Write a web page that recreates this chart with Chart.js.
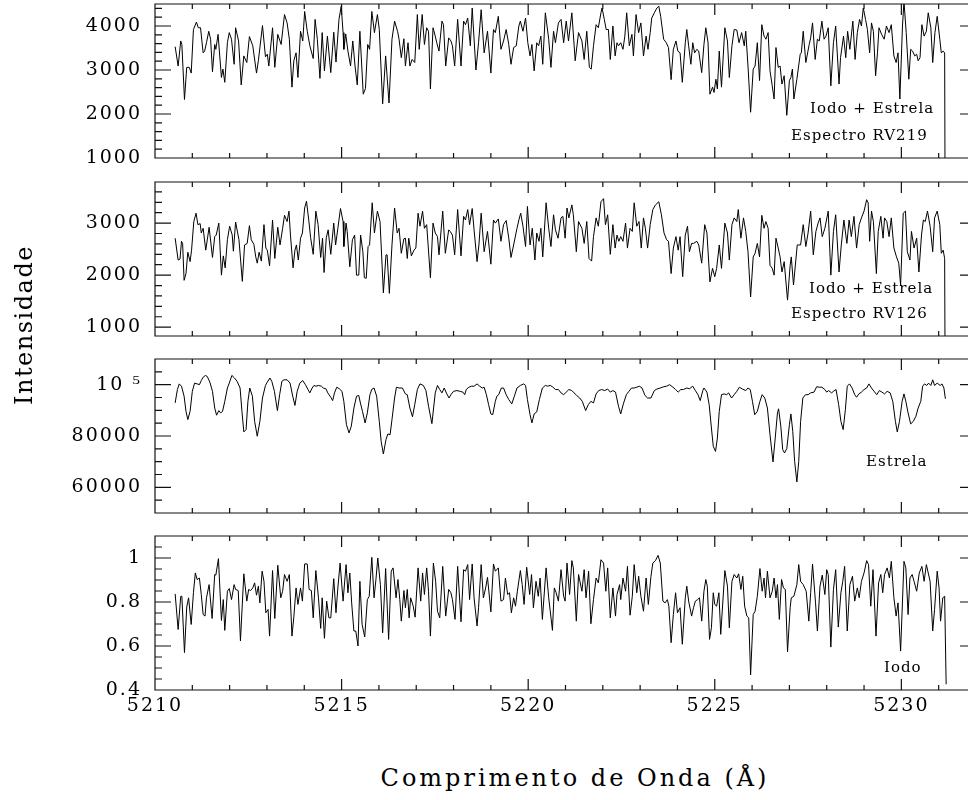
<!DOCTYPE html>
<html>
<head>
<meta charset="utf-8">
<script src="https://cdn.jsdelivr.net/npm/chart.js@4.4.1/dist/chart.umd.min.js"></script>
<style>
  html, body { margin: 0; padding: 0; background: #fff; overflow: hidden; }
  #wrap { position: relative; width: 968px; height: 800px; overflow: hidden; background: #fff; }
  #wrap canvas { position: absolute; left: 0; }
  .txt { position: absolute; font-family: 'DejaVu Serif', serif; color: #000; white-space: nowrap; line-height: 1; }
  .note { font-size: 15px; letter-spacing: 1px; }
  #ytitle { left: 24px; top: 325px; font-size: 24px; letter-spacing: 1.5px; transform: translate(-50%, -50%) rotate(-90deg); }
  #xtitle { left: 575px; top: 778px; font-size: 24px; letter-spacing: 3px; transform: translate(-50%, -50%); }
</style>
</head>
<body>
<div id="wrap">
  <canvas id="c1" width="980" height="174" style="top:0px"></canvas>
  <canvas id="c2" width="980" height="162" style="top:178px"></canvas>
  <canvas id="c3" width="980" height="162" style="top:355px"></canvas>
  <canvas id="c4" width="980" height="194" style="top:532px"></canvas>

  <div class="txt note" style="left:810px; top:101px">Iodo + Estrela</div>
  <div class="txt note" style="left:791px; top:128px">Espectro RV219</div>
  <div class="txt note" style="left:809px; top:281px">Iodo + Estrela</div>
  <div class="txt note" style="left:791px; top:306px">Espectro RV126</div>
  <div class="txt note" style="left:866px; top:454px">Estrela</div>
  <div class="txt note" style="left:884px; top:660px">Iodo</div>

  <div class="txt" id="ytitle">Intensidade</div>
  <div class="txt" id="xtitle">Comprimento de Onda (Å)</div>
</div>

<script>
// comprimento de onda (Angstrom) e intensidade

// painel 1 - Iodo + Estrela, espectro RV219
var wl1 = [
  5210.54,5210.62,5210.69,5210.72,5210.79,5210.85,5210.92,5210.97,5211.03,5211.11,
  5211.16,5211.22,5211.29,5211.33,5211.38,5211.44,5211.49,5211.54,5211.60,5211.63,
  5211.69,5211.78,5211.82,5211.87,5211.94,5211.99,5212.05,5212.12,5212.16,5212.24,
  5212.31,5212.38,5212.46,5212.53,5212.62,5212.72,5212.77,5212.88,5212.96,5213.01,
  5213.05,5213.15,5213.21,5213.29,5213.38,5213.47,5213.54,5213.60,5213.67,5213.72,
  5213.78,5213.83,5213.90,5213.96,5214.01,5214.08,5214.15,5214.24,5214.29,5214.35,
  5214.42,5214.48,5214.54,5214.62,5214.71,5214.79,5214.85,5214.93,5214.99,5215.04,
  5215.06,5215.11,5215.17,5215.24,5215.30,5215.36,5215.42,5215.49,5215.58,5215.64,
  5215.70,5215.75,5215.81,5215.88,5215.96,5216.01,5216.10,5216.18,5216.27,5216.35,
  5216.42,5216.50,5216.54,5216.60,5216.67,5216.71,5216.78,5216.83,5216.89,5216.96,
  5217.03,5217.08,5217.16,5217.22,5217.28,5217.33,5217.38,5217.45,5217.51,5217.55,
  5217.61,5217.69,5217.73,5217.79,5217.87,5217.93,5217.97,5218.03,5218.11,5218.20,
  5218.27,5218.32,5218.38,5218.45,5218.50,5218.60,5218.67,5218.74,5218.82,5218.91,
  5219.00,5219.07,5219.12,5219.20,5219.27,5219.34,5219.41,5219.48,5219.54,5219.61,
  5219.68,5219.75,5219.79,5219.86,5219.93,5219.99,5220.05,5220.10,5220.16,5220.23,
  5220.28,5220.34,5220.39,5220.46,5220.55,5220.61,5220.68,5220.73,5220.81,5220.88,
  5220.95,5221.02,5221.08,5221.17,5221.26,5221.35,5221.44,5221.50,5221.57,5221.64,
  5221.69,5221.75,5221.82,5221.88,5221.95,5221.98,5222.04,5222.09,5222.15,5222.20,
  5222.27,5222.33,5222.38,5222.42,5222.48,5222.54,5222.59,5222.64,5222.71,5222.78,
  5222.82,5222.89,5222.96,5223.02,5223.09,5223.16,5223.21,5223.27,5223.31,5223.38,
  5223.45,5223.50,5223.55,5223.63,5223.70,5223.76,5223.83,5223.89,5223.96,5224.01,
  5224.07,5224.13,5224.21,5224.25,5224.30,5224.36,5224.41,5224.46,5224.52,5224.57,
  5224.65,5224.71,5224.76,5224.82,5224.87,5224.94,5224.98,5225.03,5225.07,5225.12,
  5225.18,5225.27,5225.34,5225.39,5225.46,5225.52,5225.59,5225.65,5225.72,5225.79,
  5225.83,5225.89,5225.96,5226.03,5226.08,5226.14,5226.20,5226.26,5226.32,5226.37,
  5226.43,5226.48,5226.54,5226.59,5226.64,5226.70,5226.75,5226.80,5226.86,5226.93,
  5227.00,5227.04,5227.08,5227.12,5227.20,5227.29,5227.32,5227.37,5227.44,5227.53,
  5227.57,5227.62,5227.69,5227.75,5227.80,5227.87,5227.93,5227.98,5228.04,5228.11,
  5228.18,5228.24,5228.33,5228.37,5228.45,5228.51,5228.56,5228.62,5228.70,5228.76,
  5228.82,5228.88,5228.93,5228.98,5229.04,5229.09,5229.15,5229.20,5229.25,5229.31,
  5229.36,5229.40,5229.47,5229.54,5229.60,5229.67,5229.73,5229.80,5229.86,5229.91,
  5229.96,5230.03,5230.07,5230.13,5230.20,5230.25,5230.30,5230.36,5230.41,5230.45,
  5230.50,5230.55,5230.61,5230.67,5230.72,5230.79,5230.84,5230.90,5230.96,5231.03,
  5231.07,5231.12,5231.16,5231.17
];
var rv219 = [
  3530,3090,3660,3580,2330,3060,3060,2930,3920,4090,
  3960,3960,3390,3430,3620,3880,3700,2960,3580,3470,
  3810,2830,3020,2720,3620,3850,3700,3130,3960,3660,
  2660,3320,3170,3760,3550,2930,3210,4010,3300,3360,
  3090,3960,3060,3810,3580,4260,4070,3700,2610,3210,
  3390,2830,3880,3660,4330,3880,3550,3260,4150,3700,
  2810,3850,2980,3770,2940,3860,3180,4150,4450,3850,
  3470,3820,3430,3090,3660,3090,2660,3880,2450,2580,
  3580,3470,4330,3850,4260,3920,2230,3320,2250,3700,
  4110,3880,3700,3280,3710,3090,3620,3090,3240,3170,
  4260,3470,4260,3580,3960,3880,2570,3960,3770,3620,
  3430,4110,4030,3090,3730,3660,3550,3090,4150,3090,
  4110,4030,4180,3550,4410,3000,3620,4370,3390,3880,
  2930,3920,3850,4220,3470,3660,3920,3580,3130,3510,
  3550,4000,4110,3880,4180,3620,3320,3580,2980,3620,
  3550,3770,3130,4300,3700,3060,3880,3620,4070,4150,
  3620,4110,3660,4300,3210,3850,3660,3240,3880,3060,
  3020,3550,4030,3960,4300,4410,4150,3920,3920,3240,
  4000,3320,3620,3550,3620,3470,3770,4300,3550,3810,
  3320,4260,3850,4070,3320,3770,3470,3850,4180,4300,
  4410,4450,4220,3700,3620,3510,2780,3470,3660,3430,
  3390,2720,3620,3920,3550,3130,3620,3390,3470,3430,
  2940,3580,3960,3620,2450,2610,2490,2790,2570,3430,
  2610,3960,3660,2830,3550,3920,3910,3620,3850,3550,
  3880,3090,2040,3020,3090,3620,2760,4030,3770,3700,
  3850,2980,2640,2340,3510,3060,3090,2680,2870,1970,
  2760,2830,3020,2340,2790,3360,3390,3880,3170,3580,
  3730,4070,3240,3700,3660,4110,3700,3770,3960,2640,
  3620,4000,2680,3280,3770,3280,3880,3470,4110,3240,
  3850,4150,4000,4410,4150,3920,3390,4070,3880,2870,
  3390,3960,3810,3700,4000,3850,4030,3320,3170,3390,
  2340,4000,4560,3850,2790,3470,3430,3320,3360,3210,
  3280,4030,3770,3880,4300,3960,3170,3850,4220,3700,
  3390,3430,3390,400
];

// painel 2 - Iodo + Estrela, espectro RV126
var wl2 = [
  5210.54,5210.62,5210.67,5210.71,5210.74,5210.78,5210.83,5210.88,5210.94,5210.98,
  5211.04,5211.10,5211.15,5211.21,5211.24,5211.29,5211.36,5211.45,5211.54,5211.60,
  5211.64,5211.71,5211.78,5211.83,5211.88,5211.94,5212.00,5212.07,5212.10,5212.16,
  5212.25,5212.34,5212.40,5212.47,5212.53,5212.58,5212.65,5212.70,5212.74,5212.79,
  5212.85,5212.92,5212.97,5213.01,5213.07,5213.15,5213.21,5213.29,5213.35,5213.42,
  5213.47,5213.54,5213.59,5213.63,5213.70,5213.75,5213.79,5213.84,5213.90,5213.95,
  5214.01,5214.06,5214.12,5214.17,5214.24,5214.31,5214.37,5214.44,5214.49,5214.53,
  5214.59,5214.64,5214.71,5214.79,5214.84,5214.90,5214.97,5215.04,5215.06,5215.12,
  5215.15,5215.22,5215.29,5215.35,5215.40,5215.46,5215.51,5215.57,5215.61,5215.66,
  5215.71,5215.75,5215.82,5215.88,5215.96,5216.03,5216.12,5216.19,5216.22,5216.28,
  5216.35,5216.42,5216.49,5216.54,5216.60,5216.67,5216.71,5216.76,5216.80,5216.87,
  5216.94,5216.99,5217.05,5217.10,5217.17,5217.22,5217.28,5217.38,5217.45,5217.51,
  5217.57,5217.61,5217.71,5217.78,5217.87,5217.91,5217.97,5218.03,5218.11,5218.20,
  5218.27,5218.32,5218.38,5218.43,5218.50,5218.55,5218.63,5218.68,5218.74,5218.82,
  5218.91,5219.00,5219.07,5219.12,5219.20,5219.27,5219.34,5219.41,5219.48,5219.54,
  5219.61,5219.70,5219.75,5219.80,5219.86,5219.93,5219.98,5220.05,5220.11,5220.18,
  5220.23,5220.29,5220.34,5220.39,5220.48,5220.55,5220.61,5220.68,5220.73,5220.80,
  5220.88,5220.93,5220.99,5221.04,5221.09,5221.17,5221.21,5221.29,5221.35,5221.44,
  5221.50,5221.57,5221.63,5221.70,5221.75,5221.82,5221.88,5221.95,5222.02,5222.07,
  5222.13,5222.20,5222.27,5222.33,5222.38,5222.43,5222.48,5222.54,5222.61,5222.66,
  5222.73,5222.79,5222.84,5222.91,5222.97,5223.03,5223.09,5223.14,5223.20,5223.27,
  5223.34,5223.41,5223.50,5223.57,5223.64,5223.71,5223.76,5223.83,5223.89,5223.96,
  5224.02,5224.07,5224.14,5224.21,5224.27,5224.32,5224.38,5224.43,5224.52,5224.57,
  5224.65,5224.73,5224.79,5224.87,5224.94,5225.00,5225.05,5225.12,5225.18,5225.27,
  5225.34,5225.39,5225.46,5225.52,5225.59,5225.63,5225.70,5225.77,5225.83,5225.89,
  5225.96,5226.03,5226.08,5226.14,5226.20,5226.26,5226.32,5226.37,5226.43,5226.48,
  5226.54,5226.59,5226.64,5226.70,5226.75,5226.80,5226.86,5226.95,5227.02,5227.05,
  5227.11,5227.21,5227.30,5227.37,5227.44,5227.50,5227.57,5227.64,5227.71,5227.77,
  5227.82,5227.88,5227.95,5228.04,5228.11,5228.18,5228.24,5228.33,5228.39,5228.46,
  5228.54,5228.60,5228.66,5228.73,5228.80,5228.87,5228.93,5229.00,5229.07,5229.11,
  5229.15,5229.20,5229.25,5229.33,5229.38,5229.45,5229.51,5229.55,5229.61,5229.67,
  5229.73,5229.80,5229.87,5229.93,5229.98,5230.05,5230.11,5230.16,5230.23,5230.27,
  5230.34,5230.41,5230.47,5230.54,5230.59,5230.64,5230.70,5230.77,5230.84,5230.89,
  5230.96,5231.03,5231.07,5231.12,5231.16,5231.17
];
var rv126 = [
  2710,2290,2310,2650,2610,1900,2030,2440,2260,2480,
  3030,3190,2970,2990,2810,2900,2480,2920,2340,2740,
  2770,3000,2000,2370,2140,2680,2940,2770,2460,3020,
  2680,1880,2580,2610,2950,2680,2590,2350,2230,2440,
  2270,2970,2520,2480,2180,3060,2320,2920,2580,2900,
  3150,3030,3230,2770,2140,2480,2580,2290,2710,2810,
  3290,3420,3060,2720,2400,3230,2970,2340,2710,2050,
  2720,2870,2400,3000,2580,2900,3280,3030,2550,3000,
  2840,2160,2680,2770,2000,2000,2770,2450,1950,1940,
  2550,2580,3390,2810,3230,3030,1660,2390,2390,1650,
  2580,3290,2810,2900,2420,2700,2710,2320,2710,2370,
  2480,2520,3190,2940,3230,2900,2970,1950,3000,2810,
  2740,2390,3230,2420,2870,2840,2770,2390,3260,2370,
  3130,3060,3260,2970,3280,2870,2260,2580,3190,2450,
  2840,2210,3060,3000,3080,2650,2970,3050,2710,2340,
  2580,2900,3060,3190,2940,2550,3320,2580,2900,2290,
  2810,2650,2900,2350,3390,2900,2550,3160,2870,2710,
  3100,3130,2710,3290,3100,3350,3160,2450,3030,2900,
  2610,3030,2320,2270,2740,3100,2940,3410,3470,2970,
  3160,2400,2970,2520,2770,2650,2740,2650,3000,2520,
  2900,2840,3390,2940,3030,2520,3100,2900,2520,2970,
  3260,3350,3410,3160,2810,2680,2650,2030,2520,2740,
  2480,2740,1970,2770,2940,2450,2610,2610,2650,2580,
  2230,2970,2810,1870,2130,1970,2130,2580,2130,3000,
  2810,2290,2970,3100,3030,3260,2710,3100,2840,2450,
  1580,2350,2420,2610,2350,3150,2900,3030,2900,2190,
  2130,2000,2710,2520,2350,2060,2260,1520,2190,2350,
  1810,2580,2580,2970,2550,2810,3230,2390,2840,3000,
  3100,2740,2900,3230,2000,2840,3160,2060,2580,3060,
  2610,3060,2740,3130,2520,2970,3100,3230,3450,3390,
  2650,3230,3030,2030,2840,3130,2710,3100,3030,2740,
  3100,2520,2350,2230,1810,3190,3230,2450,2290,2840,
  2520,2710,2060,2770,3060,3030,3230,2940,2450,3100,
  3230,2970,2420,2480,2320,500
];

// painel 3 - Estrela
var wl3 = [
  5210.54,5210.60,5210.65,5210.71,5210.78,5210.83,5210.88,5210.94,5211.00,5211.06,
  5211.13,5211.19,5211.24,5211.29,5211.35,5211.40,5211.47,5211.54,5211.60,5211.65,
  5211.71,5211.76,5211.81,5211.87,5211.94,5211.99,5212.06,5212.13,5212.20,5212.28,
  5212.33,5212.38,5212.44,5212.49,5212.54,5212.61,5212.67,5212.74,5212.81,5212.88,
  5212.96,5213.01,5213.08,5213.13,5213.20,5213.28,5213.34,5213.40,5213.46,5213.54,
  5213.62,5213.69,5213.75,5213.81,5213.88,5213.96,5214.03,5214.10,5214.15,5214.21,
  5214.26,5214.31,5214.38,5214.46,5214.51,5214.58,5214.63,5214.71,5214.76,5214.81,
  5214.87,5214.94,5215.01,5215.06,5215.13,5215.20,5215.26,5215.33,5215.40,5215.46,
  5215.51,5215.56,5215.63,5215.69,5215.76,5215.81,5215.87,5215.94,5216.01,5216.06,
  5216.12,5216.19,5216.24,5216.30,5216.35,5216.42,5216.47,5216.54,5216.63,5216.71,
  5216.76,5216.83,5216.90,5216.96,5217.03,5217.10,5217.19,5217.26,5217.33,5217.42,
  5217.51,5217.57,5217.63,5217.69,5217.75,5217.82,5217.88,5217.93,5218.00,5218.09,
  5218.18,5218.25,5218.30,5218.34,5218.41,5218.48,5218.55,5218.63,5218.70,5218.77,
  5218.82,5218.88,5218.94,5219.00,5219.05,5219.12,5219.16,5219.21,5219.28,5219.34,
  5219.41,5219.48,5219.56,5219.63,5219.70,5219.79,5219.88,5219.93,5219.98,5220.05,
  5220.10,5220.16,5220.23,5220.30,5220.38,5220.46,5220.52,5220.59,5220.66,5220.73,
  5220.81,5220.88,5220.95,5221.02,5221.09,5221.17,5221.23,5221.30,5221.38,5221.45,
  5221.54,5221.61,5221.68,5221.75,5221.82,5221.89,5221.97,5222.05,5222.13,5222.20,
  5222.27,5222.34,5222.42,5222.48,5222.55,5222.63,5222.70,5222.77,5222.84,5222.91,
  5222.98,5223.05,5223.13,5223.20,5223.29,5223.38,5223.45,5223.54,5223.63,5223.71,
  5223.79,5223.88,5223.95,5224.02,5224.09,5224.16,5224.25,5224.32,5224.41,5224.48,
  5224.55,5224.61,5224.68,5224.71,5224.79,5224.85,5224.91,5224.96,5225.02,5225.07,
  5225.12,5225.18,5225.25,5225.32,5225.37,5225.45,5225.52,5225.59,5225.66,5225.74,
  5225.83,5225.89,5225.95,5226.01,5226.07,5226.14,5226.21,5226.27,5226.34,5226.41,
  5226.48,5226.56,5226.62,5226.68,5226.71,5226.77,5226.82,5226.87,5226.93,5227.00,
  5227.04,5227.09,5227.14,5227.20,5227.25,5227.30,5227.36,5227.43,5227.50,5227.57,
  5227.66,5227.73,5227.80,5227.87,5227.95,5228.00,5228.05,5228.13,5228.18,5228.25,
  5228.32,5228.38,5228.44,5228.50,5228.55,5228.61,5228.68,5228.75,5228.80,5228.86,
  5228.93,5229.00,5229.07,5229.13,5229.20,5229.27,5229.34,5229.41,5229.48,5229.55,
  5229.62,5229.70,5229.77,5229.84,5229.89,5229.95,5230.02,5230.07,5230.12,5230.18,
  5230.25,5230.32,5230.39,5230.45,5230.52,5230.57,5230.62,5230.68,5230.73,5230.79,
  5230.84,5230.89,5230.96,5231.04,5231.09,5231.14,5231.18
];
var estrela = [
  92900,98100,100300,99400,95500,89600,86400,89600,97400,100600,
  100300,100000,101600,102900,103600,103200,101000,97400,90900,88100,
  89900,89000,89600,93500,98700,100600,103600,102600,101300,98700,
  89600,81600,82500,93500,98700,95500,85700,79900,85700,94800,
  99700,101000,102600,101300,97400,89900,96100,101300,101900,101900,
  100600,95500,91900,97400,100600,101600,100000,98100,96800,98700,
  99700,99400,99700,99400,98700,98400,96800,95100,93800,96800,
  99000,98400,97400,93500,84400,81200,83800,90900,95500,95800,
  92500,89600,85100,89000,96100,98200,98700,95500,85700,77900,
  73000,78600,80800,80500,86400,94800,99000,98700,98700,96400,
  96100,90900,87500,92200,98100,100300,99700,97700,91600,84800,
  96800,99700,98100,96800,98700,96400,94800,96100,97400,97700,
  97400,97100,96100,98100,99000,99400,99400,100300,99400,98700,
  99000,96100,92200,88600,88300,93500,95500,96100,98700,98700,
  96100,94200,92500,95500,98700,99700,100300,99700,94200,88300,
  85100,88600,89400,94200,98700,99700,99400,99700,99100,98100,
  98100,96800,96100,97100,98100,97700,96800,95800,94800,93500,
  89900,92200,93500,92900,96400,97700,98100,97700,98300,97100,
  97700,97100,91600,88600,92500,96100,97400,98700,98700,99000,
  99400,98700,95800,94800,94800,97700,98300,98700,99200,99400,
  100000,99000,98100,97100,98100,98100,98700,98400,99400,97700,
  96100,93800,97700,98700,97100,92200,83100,76000,74000,79200,
  89600,96100,96400,96100,96800,94800,96100,97400,99000,98300,
  97700,98700,98100,93500,88300,89600,93500,96100,94800,90900,
  80500,69900,79200,89000,90600,83800,74700,73400,75100,84400,
  88600,81800,70100,62100,70100,85700,94800,96100,96100,96800,
  97100,99200,99000,99000,98100,97100,97700,96800,97400,98100,
  92200,85700,82500,90300,99400,100300,98700,96100,95100,96400,
  97100,98100,98700,100300,98700,97400,96100,97700,97100,96400,
  97400,96800,93500,85700,81600,85700,93500,96400,93500,89000,
  84700,85700,87700,90900,93500,99400,100300,99700,100600,99700,
  101900,99700,100600,99700,100300,98700,94500
];

// painel 4 - Iodo
var wl4 = [
  5210.54,5210.62,5210.69,5210.72,5210.79,5210.85,5210.90,5210.97,5211.03,5211.08,
  5211.13,5211.19,5211.24,5211.29,5211.34,5211.38,5211.45,5211.53,5211.60,5211.63,
  5211.70,5211.78,5211.83,5211.87,5211.94,5211.99,5212.05,5212.12,5212.16,5212.23,
  5212.29,5212.38,5212.46,5212.51,5212.56,5212.62,5212.67,5212.72,5212.77,5212.81,
  5212.87,5212.92,5212.97,5213.03,5213.07,5213.15,5213.21,5213.29,5213.37,5213.42,
  5213.47,5213.54,5213.60,5213.67,5213.72,5213.78,5213.83,5213.90,5213.95,5214.01,
  5214.08,5214.13,5214.19,5214.24,5214.31,5214.38,5214.44,5214.48,5214.54,5214.60,
  5214.66,5214.71,5214.79,5214.85,5214.90,5214.96,5215.04,5215.12,5215.17,5215.22,
  5215.27,5215.33,5215.38,5215.44,5215.49,5215.55,5215.62,5215.69,5215.74,5215.81,
  5215.87,5215.92,5215.97,5216.04,5216.10,5216.18,5216.26,5216.33,5216.38,5216.46,
  5216.51,5216.56,5216.60,5216.67,5216.71,5216.76,5216.81,5216.85,5216.92,5216.97,
  5217.05,5217.12,5217.17,5217.22,5217.28,5217.33,5217.38,5217.46,5217.52,5217.57,
  5217.63,5217.71,5217.79,5217.87,5217.93,5217.97,5218.04,5218.11,5218.20,5218.27,
  5218.32,5218.38,5218.43,5218.50,5218.55,5218.63,5218.67,5218.74,5218.80,5218.86,
  5218.91,5219.00,5219.07,5219.12,5219.20,5219.27,5219.34,5219.39,5219.45,5219.50,
  5219.55,5219.61,5219.66,5219.71,5219.79,5219.84,5219.89,5219.96,5220.04,5220.09,
  5220.14,5220.21,5220.27,5220.32,5220.38,5220.48,5220.55,5220.65,5220.70,5220.75,
  5220.81,5220.88,5220.95,5220.99,5221.04,5221.11,5221.17,5221.21,5221.29,5221.35,
  5221.44,5221.50,5221.55,5221.62,5221.68,5221.75,5221.82,5221.88,5221.95,5222.02,
  5222.08,5222.13,5222.20,5222.27,5222.34,5222.38,5222.45,5222.48,5222.54,5222.61,
  5222.66,5222.73,5222.79,5222.84,5222.91,5222.96,5223.02,5223.09,5223.16,5223.22,
  5223.29,5223.34,5223.41,5223.48,5223.54,5223.61,5223.67,5223.73,5223.77,5223.83,
  5223.89,5223.95,5224.00,5224.07,5224.13,5224.21,5224.25,5224.30,5224.38,5224.43,
  5224.48,5224.54,5224.59,5224.65,5224.71,5224.76,5224.80,5224.86,5224.91,5224.96,
  5225.00,5225.05,5225.11,5225.16,5225.27,5225.34,5225.39,5225.46,5225.52,5225.59,
  5225.64,5225.70,5225.75,5225.80,5225.86,5225.91,5225.96,5226.03,5226.08,5226.14,
  5226.21,5226.27,5226.32,5226.36,5226.41,5226.48,5226.54,5226.59,5226.64,5226.68,
  5226.73,5226.79,5226.84,5226.89,5226.95,5227.02,5227.05,5227.12,5227.20,5227.25,
  5227.30,5227.37,5227.45,5227.52,5227.57,5227.62,5227.70,5227.75,5227.82,5227.88,
  5227.95,5228.00,5228.04,5228.11,5228.18,5228.24,5228.31,5228.38,5228.43,5228.48,
  5228.55,5228.62,5228.69,5228.75,5228.82,5228.87,5228.93,5229.00,5229.07,5229.12,
  5229.18,5229.24,5229.32,5229.39,5229.45,5229.50,5229.55,5229.62,5229.68,5229.73,
  5229.80,5229.86,5229.91,5229.98,5230.07,5230.12,5230.18,5230.23,5230.29,5230.34,
  5230.41,5230.48,5230.55,5230.61,5230.67,5230.72,5230.77,5230.84,5230.89,5230.96,
  5231.01,5231.05,5231.11,5231.16,5231.20
];
var iodo = [
  0.837,0.675,0.826,0.826,0.570,0.777,0.819,0.698,0.842,0.932,
  0.902,0.909,0.834,0.743,0.736,0.819,0.879,0.725,0.925,0.922,
  0.997,0.716,0.811,0.671,0.849,0.861,0.811,0.879,0.857,0.852,
  0.623,0.928,0.804,0.857,0.852,0.864,0.887,0.831,0.872,0.796,
  0.940,0.894,0.751,0.766,0.645,0.943,0.725,0.967,0.819,0.849,
  0.925,0.894,0.925,0.645,0.731,0.864,0.789,0.864,0.804,0.973,
  0.973,0.857,0.852,0.728,0.943,0.819,0.680,0.819,0.635,0.804,
  0.728,0.728,0.906,0.751,0.864,0.977,0.804,0.970,0.842,0.932,
  0.796,0.668,0.668,0.600,0.894,0.698,0.641,0.811,0.826,1.003,
  0.819,0.902,1.000,0.879,0.660,0.952,0.630,0.940,0.955,0.819,
  0.902,0.811,0.713,0.852,0.774,0.857,0.728,0.819,0.781,0.731,
  0.955,0.804,0.932,0.834,0.955,0.849,0.645,0.977,0.894,0.758,
  0.728,0.962,0.736,0.857,0.842,0.811,0.721,0.962,0.710,0.947,
  0.940,0.970,0.811,0.973,0.819,0.691,0.774,0.970,0.819,0.864,
  0.912,0.755,0.973,0.940,0.955,0.804,0.811,0.909,0.834,0.842,
  0.751,0.819,0.781,0.849,0.943,0.879,0.789,0.958,0.834,0.925,
  0.774,0.894,0.826,0.909,0.721,0.955,0.819,0.671,0.864,0.842,
  0.804,0.947,0.826,0.804,0.977,0.834,0.988,0.955,0.713,0.925,
  0.849,0.947,0.819,0.940,0.701,0.811,0.909,0.887,0.992,0.977,
  0.849,0.955,0.728,0.864,0.736,0.834,0.879,0.811,0.909,0.849,
  0.962,0.740,0.826,0.970,0.842,0.917,0.826,0.758,0.909,0.789,
  0.917,0.977,0.988,1.012,0.977,0.804,0.796,0.811,0.781,0.615,
  0.743,0.842,0.751,0.774,0.608,0.819,0.872,0.804,0.736,0.774,
  0.804,0.811,0.819,0.713,0.849,0.902,0.872,0.630,0.683,0.842,
  0.789,0.781,0.842,0.653,0.943,0.872,0.683,0.894,0.925,0.909,
  0.928,0.857,0.917,0.781,0.736,0.728,0.469,0.743,0.758,0.826,
  0.952,0.849,0.909,0.819,0.940,0.819,0.849,0.909,0.819,0.879,
  0.721,0.902,0.864,0.857,0.574,0.774,0.819,0.826,0.879,0.970,
  0.894,0.879,0.849,0.713,0.842,0.973,0.796,0.668,0.872,0.922,
  0.834,0.947,0.925,0.595,0.857,0.947,0.686,0.842,0.894,0.962,
  0.668,0.879,0.917,0.804,0.864,0.819,0.894,0.932,0.988,0.970,
  0.781,0.947,0.645,0.887,0.925,0.842,0.925,0.955,0.909,0.985,
  0.819,0.736,0.796,0.577,0.985,0.955,0.743,0.909,0.925,0.894,
  0.849,0.932,0.962,0.894,0.970,0.932,0.894,0.668,0.766,0.940,
  0.864,0.713,0.819,0.826,0.426
];

// marcas dos eixos
var xTicks = [5210, 5215, 5220, 5225, 5230];
var ticks1 = [1000, 2000, 3000, 4000];
var ticks2 = [1000, 2000, 3000];
var ticks3 = [60000, 80000, 100000];
var ticks4 = [0.4, 0.6, 0.8, 1];

var FONT = 'DejaVu Serif';

function makePoints(xs, ys) {
	var pts = [];
	var n = Math.min(xs.length, ys.length);
	for (var i = 0; i < n; i++) {
		pts.push({ x: xs[i], y: ys[i] });
	}
	return pts;
}

// moldura com marcas para dentro (estilo pgplot)
var frameTicks = {
	id: 'frameTicks',
	beforeDraw: function(chart) {
		chart.ctx.letterSpacing = '2px';
	},
	afterDraw: function(chart) {
		var ctx = chart.ctx;
		var a = chart.chartArea;
		var xs = chart.scales.x, ys = chart.scales.y;
		var o = chart.options.plugins.frameTicks;
		ctx.save();
		ctx.letterSpacing = '0px';
		ctx.strokeStyle = '#111';
		ctx.lineWidth = 1.2;
		ctx.beginPath();
		ctx.rect(a.left, a.top, a.right - a.left, a.bottom - a.top);
		for (var w = Math.ceil(xs.min); w <= xs.max; w++) {
			var px = xs.getPixelForValue(w);
			var lx = (w % 5 === 0) ? 11 : 5;
			ctx.moveTo(px, a.bottom); ctx.lineTo(px, a.bottom - lx);
			ctx.moveTo(px, a.top); ctx.lineTo(px, a.top + lx);
		}
		var k0 = Math.ceil(ys.min / o.minor - 1e-6);
		var k1 = Math.floor(ys.max / o.minor + 1e-6);
		for (var k = k0; k <= k1; k++) {
			var v = k * o.minor;
			var r = v / o.major;
			var isMajor = Math.abs(r - Math.round(r)) < 1e-6;
			var ly = isMajor ? 16 : 7;
			var py = ys.getPixelForValue(v);
			ctx.moveTo(a.left, py); ctx.lineTo(a.left + ly, py);
			ctx.moveTo(a.right, py); ctx.lineTo(a.right - ly, py);
		}
		ctx.stroke();
		ctx.restore();
	}
};

function renderPanel(id, xs, ys, yMin, yMax, yTicks, major, minor, showX, padBottom, labelFn) {
	var options = {
		type: 'line',
		data: {
			datasets: [{
				data: makePoints(xs, ys),
				borderColor: '#000',
				borderWidth: 1,
				pointRadius: 0,
				tension: 0,
				fill: false
			}]
		},
		options: {
			responsive: false,
			animation: false,
			events: [],
			layout: {
				padding: { top: 4, right: 4, bottom: padBottom, left: 0 }
			},
			plugins: {
				legend: { display: false },
				tooltip: { enabled: false },
				frameTicks: { major: major, minor: minor }
			},
			scales: {
				x: {
					type: 'linear',
					min: 5210,
					max: 5232,
					display: showX,
					grid: { display: false, drawTicks: false },
					border: { display: false },
					afterBuildTicks: function(s) {
						s.ticks = xTicks.map(function(v) { return { value: v }; });
					},
					afterFit: function(s) {
						s.height = showX ? 36 : 0;
						s.paddingLeft = 0;
						s.paddingRight = 0;
					},
					ticks: {
						padding: 5,
						color: '#000',
						maxRotation: 0,
						autoSkip: false,
						font: { family: FONT, size: 19 },
						callback: function(v) { return String(v); }
					}
				},
				y: {
					min: yMin,
					max: yMax,
					grid: { display: false, drawTicks: false },
					border: { display: false },
					afterBuildTicks: function(s) {
						s.ticks = yTicks.map(function(v) { return { value: v }; });
					},
					afterFit: function(s) {
						s.width = 155;
						s.paddingTop = 0;
						s.paddingBottom = 0;
					},
					ticks: {
						padding: 13,
						color: '#000',
						autoSkip: false,
						font: { family: FONT, size: 19 },
						callback: labelFn || function(v) { return String(v); }
					}
				}
			}
		},
		plugins: [frameTicks]
	};
	new Chart(document.getElementById(id), options);
}

renderPanel('c1', wl1, rv219, 1000, 4500, ticks1, 1000, 200, false, 16);
renderPanel('c2', wl2, rv126, 830, 3790, ticks2, 1000, 200, false, 4);
renderPanel('c3', wl3, estrela, 50000, 110000, ticks3, 20000, 5000, false, 4, function(v) {
	return v === 100000 ? '10 \u2075' : String(v);
});
renderPanel('c4', wl4, iodo, 0.4, 1.1, ticks4, 0.2, 0.05, true, 0, function(v) {
	return v === 1 ? '1' : v.toFixed(1);
});
</script>
</body>
</html>
